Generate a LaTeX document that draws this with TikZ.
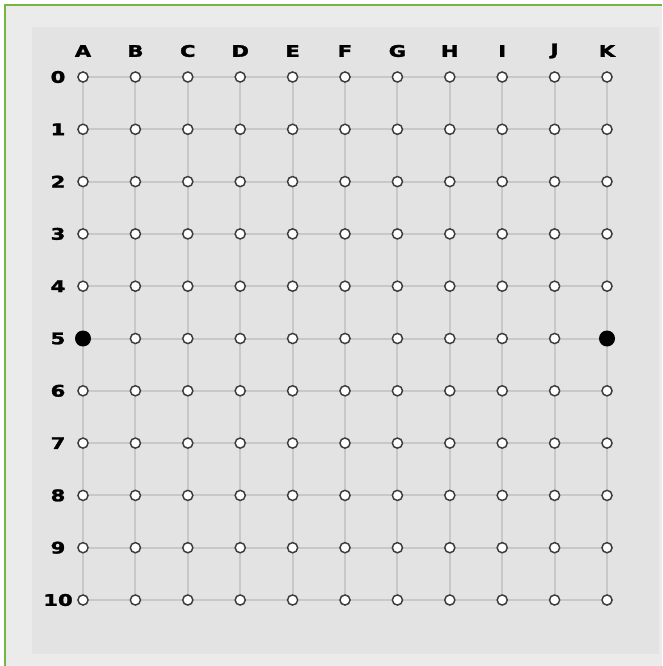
\documentclass[tikz,border=0pt]{standalone}
\usepackage{fontspec}
\usepackage{graphicx}
\setmainfont{DejaVu Sans}
\newfontfamily\lblfont{DejaVu Sans}[FakeBold=1.6]
\usepackage{tikz}
\usetikzlibrary{backgrounds}

\definecolor{frameGreen}{HTML}{76B443}
\definecolor{outerGray}{HTML}{EBEBEB}
\definecolor{panelGray}{HTML}{E3E3E3}
\definecolor{gridGray}{HTML}{C8C8C8}
\definecolor{holeRim}{HTML}{3C3C3C}
\newcommand{\gridlbl}[1]{\scalebox{1.32}[1]{\fontsize{12}{12}\lblfont\bfseries #1}}

\begin{document}
\begin{tikzpicture}[x=0.75pt,y=-0.75pt,
        hole/.style={circle,draw=holeRim,fill=white,line width=1.1pt,inner sep=0pt,minimum size=7.6pt},
        peg/.style={circle,fill=black,inner sep=0pt,minimum size=12pt},
        gridline/.style={draw=gridGray,line width=1.5pt},
        lbl/.style={inner sep=0pt}]
        \useasboundingbox (0,0) rectangle (662,666);
        % holes of the board
        \foreach \c [count=\i from 0] in {A,...,K} {
            \node[lbl] (col\c) at ({83+52.4*\i},51) {\gridlbl{\c}};
            \foreach \r in {0,...,10} {
                \node[hole] (\c\r) at ({83+52.4*\i},{77+52.3*\r}) {};
            }
        }
        \foreach \r in {0,...,10} {
            \node[lbl] (row\r) at (58,{77+52.3*\r}) {\gridlbl{\r}};
        }
        % the two pegs
        \node[peg] (pegA) at (A5) {};
        \node[peg] (pegK) at (K5) {};
        \begin{scope}[on background layer]
            \fill[outerGray] (5,5) rectangle (662,666);
            \fill[panelGray] (32,27) rectangle (659,654);
            \draw[frameGreen,line width=1.5pt] (5,666) -- (5,5) -- (662,5);
            \foreach \r in {0,...,10} \draw[gridline] (A\r) -- (K\r);
            \foreach \c in {A,...,K} \draw[gridline] (\c0) -- (\c10);
        \end{scope}
\end{tikzpicture}
\end{document}
